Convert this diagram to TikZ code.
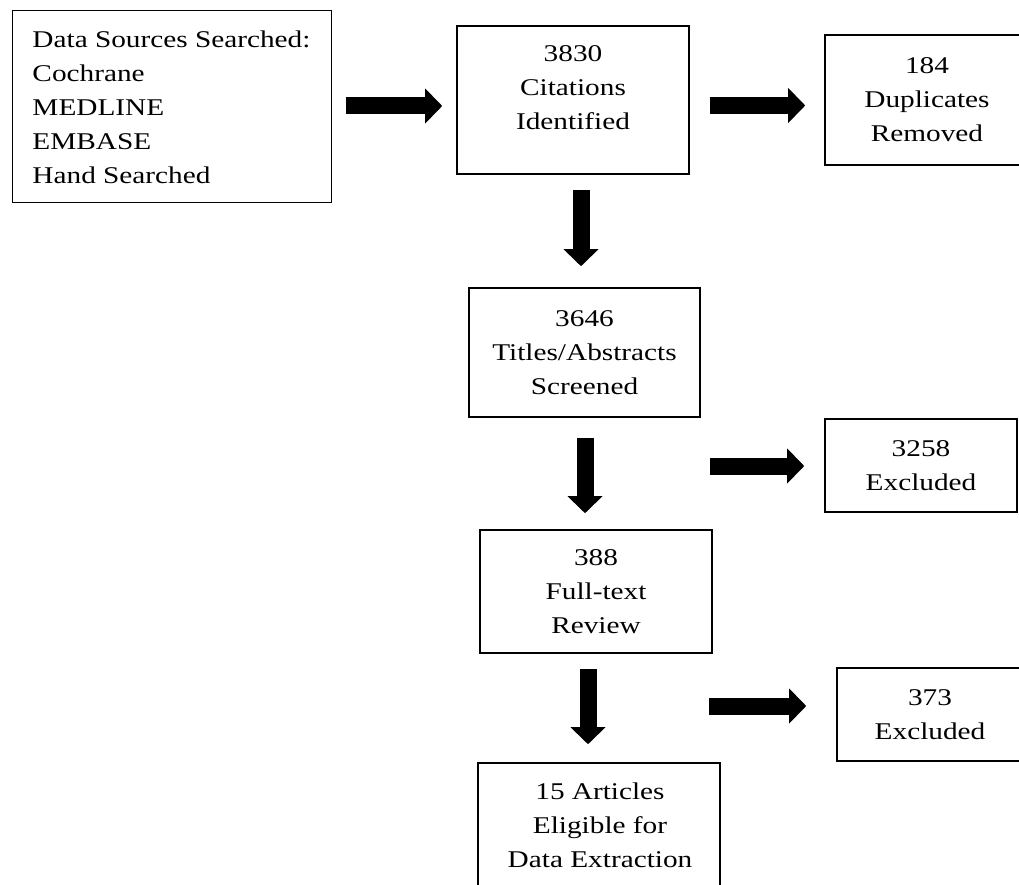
\documentclass[tikz,border=0pt]{standalone}
\usepackage{fontspec}
\setmainfont[FakeStretch=1.22]{Liberation Serif}
\usetikzlibrary{arrows.meta}
\begin{document}
\begin{tikzpicture}[x=1pt,y=-1pt,
  box/.style={draw, line width=1.6pt, inner sep=0pt, font=\fontsize{24}{34}\selectfont, align=center},
  txt/.style={inner sep=0pt, font=\fontsize{24}{34}\selectfont},
  barrow/.style={line width=17pt, -{Triangle[width=35pt,length=17pt,line width=0pt]}}]
\useasboundingbox (0,0) rectangle (1019,885);
\clip (0,0) rectangle (1019,885);
% boxes
\node[box, line width=1pt, align=left, minimum width=319pt, minimum height=192pt] (src) at (171.5,107)
  {Data Sources Searched:\\Cochrane\\MEDLINE\\EMBASE\\Hand Searched};
\node[box, minimum width=232pt, minimum height=148pt,
  label={[txt, align=center, yshift=12pt, name=citT]center:3830\\Citations\\Identified}] (cit) at (573,100) {};
\node[box, minimum width=204pt, minimum height=130pt] (dup) at (927,100)
  {184\\Duplicates\\Removed};
\node[box, minimum width=231pt, minimum height=129pt] (tit) at (584.5,352.5)
  {3646\\Titles/Abstracts\\Screened};
\node[box, minimum width=192pt, minimum height=93pt] (ex1) at (921,465.5)
  {3258\\Excluded};
\node[box, minimum width=232pt, minimum height=123pt] (ft) at (596,591.5)
  {388\\Full-text\\Review};
\node[box, minimum width=186pt, minimum height=93pt] (ex2) at (930,714.5)
  {373\\Excluded};
\node[box, minimum width=242pt, minimum height=147pt,
  label={[txt, align=center, xshift=1pt, yshift=11pt, name=artT]center:15 Articles\\Eligible for\\Data Extraction}] (art) at (599,836.5) {};
% arrows
\draw[barrow] ([xshift=14pt,yshift=1pt]src.east) -- ([xshift=-14pt,yshift=1pt]cit.west |- src.east);
\draw[barrow] ([xshift=20pt,yshift=-5.5pt]cit.east) -- ([xshift=-19pt,yshift=-5.5pt]dup.west);
\draw[barrow] ([xshift=8pt,yshift=-15pt]cit.south) -- ([xshift=-3.5pt,yshift=21pt]tit.north);
\draw[barrow] ([xshift=0.5pt,yshift=-20pt]tit.south) -- ([xshift=-11pt,yshift=16pt]ft.north);
\draw[barrow] ([xshift=9pt,yshift=-0.5pt]tit.east |- ex1.west) -- ([xshift=-20pt,yshift=-0.5pt]ex1.west);
\draw[barrow] ([xshift=-8pt,yshift=-15pt]ft.south) -- ([xshift=-11pt,yshift=18pt]art.north);
\draw[barrow] ([xshift=-4pt,yshift=8.5pt]ft.east |- ex2.west) -- ([xshift=-30pt,yshift=8.5pt]ex2.west);
\end{tikzpicture}
\end{document}
